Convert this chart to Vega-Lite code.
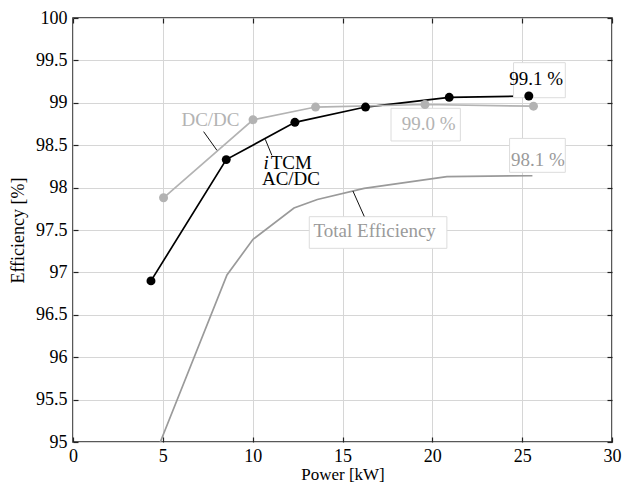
{
  "$schema": "https://vega.github.io/schema/vega-lite/v6.json",
  "width": 539,
  "height": 424,
  "autosize": "none",
  "padding": {"left": 73, "top": 18, "right": 17, "bottom": 42},
  "background": "white",
  "config": {
    "font": "Liberation Serif",
    "view": {"stroke": "#222", "strokeWidth": 1.5},
    "axis": {
      "labelFont": "Liberation Serif",
      "labelFontSize": 18,
      "labelColor": "#000",
      "labelFlush": false,
      "labelOverlap": false,
      "titleFont": "Liberation Serif",
      "titleFontSize": 18,
      "titleFontWeight": "normal",
      "titleColor": "#000",
      "gridColor": "#d6d6d6",
      "gridWidth": 1,
      "tickColor": "#222",
      "tickSize": -5,
      "tickWidth": 1.2,
      "domain": false
    }
  },
  "datasets": {
    "series": [
      {"series": "iTCM", "power": 4.34, "eff": 96.90},
      {"series": "iTCM", "power": 8.53, "eff": 98.33},
      {"series": "iTCM", "power": 12.35, "eff": 98.77},
      {"series": "iTCM", "power": 16.28, "eff": 98.95},
      {"series": "iTCM", "power": 20.94, "eff": 99.065},
      {"series": "iTCM", "power": 25.37, "eff": 99.08},
      {"series": "DC/DC", "power": 5.04, "eff": 97.88},
      {"series": "DC/DC", "power": 10.02, "eff": 98.80},
      {"series": "DC/DC", "power": 13.50, "eff": 98.95},
      {"series": "DC/DC", "power": 19.59, "eff": 98.98},
      {"series": "DC/DC", "power": 25.63, "eff": 98.96},
      {"series": "Total", "power": 4.86, "eff": 95.0},
      {"series": "Total", "power": 8.57, "eff": 96.97},
      {"series": "Total", "power": 10.02, "eff": 97.39},
      {"series": "Total", "power": 12.3, "eff": 97.76},
      {"series": "Total", "power": 13.6, "eff": 97.86},
      {"series": "Total", "power": 16.2, "eff": 97.99},
      {"series": "Total", "power": 20.81, "eff": 98.13},
      {"series": "Total", "power": 25.57, "eff": 98.14}
    ],
    "boxes": [
      {"x1": 24.52, "x2": 27.40, "y1": 99.473, "y2": 99.06},
      {"x1": 17.70, "x2": 21.56, "y1": 98.935, "y2": 98.55},
      {"x1": 24.30, "x2": 27.40, "y1": 98.58, "y2": 98.18},
      {"x1": 13.15, "x2": 20.81, "y1": 97.657, "y2": 97.284}
    ],
    "leaders": [
      {"x1": 7.27, "y1": 98.66, "x2": 8.01, "y2": 98.44},
      {"x1": 10.70, "y1": 98.57, "x2": 11.07, "y2": 98.38},
      {"x1": 15.58, "y1": 97.96, "x2": 16.21, "y2": 97.66}
    ],
    "labels": [
      {"label": "DC/DC", "series": "DC/DC", "x": 7.65, "y": 98.80},
      {"label": "AC/DC", "series": "iTCM", "x": 12.13, "y": 98.098},
      {"label": "99.1 %", "series": "iTCM", "x": 25.78, "y": 99.28},
      {"label": "99.0 %", "series": "DC/DC", "x": 19.79, "y": 98.754},
      {"label": "98.1 %", "series": "Total", "x": 25.87, "y": 98.325},
      {"label": "Total Efficiency", "series": "Total", "x": 16.79, "y": 97.49}
    ],
    "italic": [
      {"label": "i", "series": "iTCM", "x": 10.9, "y": 98.287}
    ],
    "plain": [
      {"label": "TCM", "series": "iTCM", "x": 11.0, "y": 98.287}
    ]
  },
  "resolve": {"axis": {"x": "independent", "y": "independent"}},
  "layer": [
    {
      "data": {"name": "series"},
      "mark": {"type": "line", "strokeWidth": 1.7},
      "encoding": {
        "x": {
          "field": "power", "type": "quantitative",
          "scale": {"domain": [0, 30], "nice": false},
          "axis": {"orient": "bottom", "values": [0, 5, 10, 15, 20, 25, 30], "title": "Power [kW]", "titleFontSize": 17, "labelPadding": 10, "titlePadding": 1}
        },
        "y": {
          "field": "eff", "type": "quantitative",
          "scale": {"domain": [95, 100], "nice": false, "zero": false},
          "axis": {"orient": "left", "values": [95, 95.5, 96, 96.5, 97, 97.5, 98, 98.5, 99, 99.5, 100], "format": "~g", "title": "Efficiency [%]", "labelPadding": 11, "titlePadding": 8}
        },
        "color": {
          "field": "series", "type": "nominal",
          "scale": {"domain": ["iTCM", "DC/DC", "Total"], "range": ["#000000", "#b3b3b3", "#9a9a9a"]},
          "legend": null
        },
        "detail": {"field": "series"}
      }
    },
    {
      "data": {"name": "boxes"},
      "mark": {"type": "rect", "fill": "white", "stroke": "#dcdcdc", "strokeWidth": 1},
      "encoding": {
        "x": {
          "field": "x1", "type": "quantitative",
          "scale": {"domain": [0, 30], "nice": false},
          "axis": {"orient": "top", "values": [0, 5, 10, 15, 20, 25, 30], "labels": false, "title": null, "grid": false}
        },
        "x2": {"field": "x2"},
        "y": {
          "field": "y1", "type": "quantitative",
          "scale": {"domain": [95, 100], "nice": false, "zero": false},
          "axis": {"orient": "right", "values": [95, 95.5, 96, 96.5, 97, 97.5, 98, 98.5, 99, 99.5, 100], "labels": false, "title": null, "grid": false}
        },
        "y2": {"field": "y2"}
      }
    },
    {
      "data": {"name": "series"},
      "transform": [{"filter": "datum.series !== 'Total'"}],
      "mark": {"type": "point", "filled": true, "size": 80, "opacity": 1},
      "encoding": {
        "x": {"field": "power", "type": "quantitative", "axis": null},
        "y": {"field": "eff", "type": "quantitative", "axis": null},
        "color": {"field": "series", "type": "nominal", "legend": null}
      }
    },
    {
      "data": {"name": "leaders"},
      "mark": {"type": "rule", "color": "#111", "strokeWidth": 1},
      "encoding": {
        "x": {"field": "x1", "type": "quantitative", "axis": null},
        "y": {"field": "y1", "type": "quantitative", "axis": null},
        "x2": {"field": "x2"},
        "y2": {"field": "y2"}
      }
    },
    {
      "data": {"name": "labels"},
      "mark": {"type": "text", "fontSize": 19, "font": "Liberation Serif", "align": "center", "baseline": "middle"},
      "encoding": {
        "x": {"field": "x", "type": "quantitative", "axis": null},
        "y": {"field": "y", "type": "quantitative", "axis": null},
        "text": {"field": "label"},
        "color": {"field": "series", "type": "nominal", "legend": null}
      }
    },
    {
      "data": {"name": "italic"},
      "mark": {"type": "text", "fontSize": 19, "font": "Liberation Serif", "fontStyle": "italic", "align": "right", "baseline": "middle"},
      "encoding": {
        "x": {"field": "x", "type": "quantitative", "axis": null},
        "y": {"field": "y", "type": "quantitative", "axis": null},
        "text": {"field": "label"},
        "color": {"field": "series", "type": "nominal", "legend": null}
      }
    },
    {
      "data": {"name": "plain"},
      "mark": {"type": "text", "fontSize": 19, "font": "Liberation Serif", "align": "left", "baseline": "middle"},
      "encoding": {
        "x": {"field": "x", "type": "quantitative", "axis": null},
        "y": {"field": "y", "type": "quantitative", "axis": null},
        "text": {"field": "label"},
        "color": {"field": "series", "type": "nominal", "legend": null}
      }
    }
  ]
}
